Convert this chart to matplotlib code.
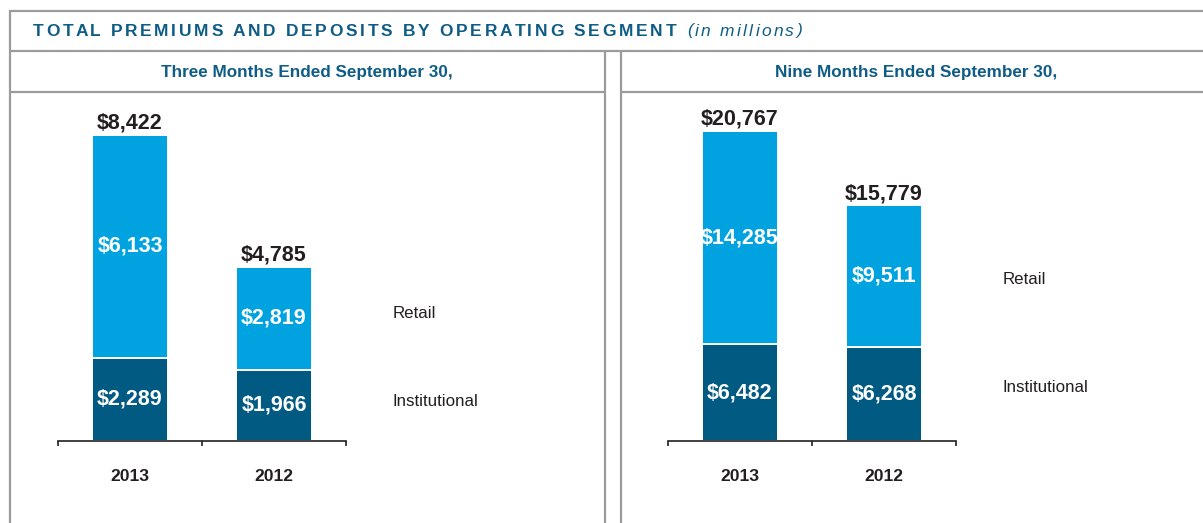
import matplotlib
matplotlib.use("Agg")
import matplotlib.pyplot as plt

plt.rcParams["font.family"] = ["Liberation Sans", "DejaVu Sans"]

# data (in millions)
years = ["2013", "2012"]
three_institutional = [2289, 1966]
three_retail = [6133, 2819]
nine_institutional = [6482, 6268]
nine_retail = [14285, 9511]
panel_titles = ["Three Months Ended September 30,", "Nine Months Ended September 30,"]
segment_names = ["Retail", "Institutional"]

W, H = 1203, 523
light = "#00a3e0"
dark = "#005a82"
navy = "#0f5d87"
ink = "#231f20"
grey = "#9b9b9b"

fig = plt.figure(figsize=(W / 100, H / 100), dpi=100)
bg = fig.add_axes([0, 0, 1, 1])
bg.set_xlim(0, W)
bg.set_ylim(H, 0)
bg.axis("off")

# frame
for xs, ys in [([9, W], [11, 11]), ([10, 10], [10, H]), ([10, W], [51, 51]),
               ([10, 605], [92, 92]), ([621, W], [92, 92]),
               ([605, 605], [51, H]), ([621, 621], [51, H])]:
    bg.plot(xs, ys, color=grey, lw=1.6, solid_capstyle="butt")

renderer = fig.canvas.get_renderer()


def text_width(s, **kw):
    t = bg.text(0, 0, s, **kw)
    w = t.get_window_extent(renderer).width
    t.remove()
    return w


def spaced_text(x, y, s, target, **kw):
    # draw s letter by letter so that it spans `target` pixels
    ref = text_width("|", **kw)
    natural = text_width(s + "|", **kw) - ref
    gap = (target - natural) / (len(s) - 1)
    for i, ch in enumerate(s):
        if ch == " ":
            continue
        off = text_width(s[:i] + "|", **kw) - ref if i else 0
        bg.text(x + off + i * gap, y, ch, ha="left", va="center", **kw)


spaced_text(33, 31, "TOTAL PREMIUMS AND DEPOSITS BY OPERATING SEGMENT", 643,
            fontsize=12.5, fontweight="bold", color=navy)
spaced_text(687, 31, "(in millions)", 115, fontsize=12.5, fontstyle="italic", color=navy)


def money(v):
    return "${:,}".format(v)


def draw_panel(left, header_x, title, inst, retail, ymax, legend_x, legend_y):
    bg.text(header_x, 72, title, ha="center", va="center", fontsize=12.3,
            fontweight="bold", color=navy)
    base, top = 441, 100
    ax = fig.add_axes([left / W, (H - base) / H, 288 / W, (base - top) / H])
    x = list(range(len(years)))
    ax.bar(x, inst, width=0.53, color=dark, edgecolor="white", linewidth=1.4)
    ax.bar(x, retail, bottom=inst, width=0.53, color=light, edgecolor="white", linewidth=1.4)
    for i in x:
        total = inst[i] + retail[i]
        ax.text(i, inst[i] / 2, money(inst[i]), ha="center", va="center",
                color="white", fontsize=15.5, fontweight="bold")
        ax.text(i, inst[i] + retail[i] / 2, money(retail[i]), ha="center", va="center",
                color="white", fontsize=15.5, fontweight="bold")
        ax.annotate(money(total), (i, total), xytext=(0, 4.5), textcoords="offset points",
                    ha="center", va="baseline", color=ink, fontsize=15.5, fontweight="bold")
        ax.annotate(years[i], (i, 0), xytext=(0, -25.5), textcoords="offset points",
                    ha="center", va="center", color=ink, fontsize=12.6, fontweight="bold")
    ax.set_xlim(-0.5, 1.5)
    ax.set_ylim(0, ymax)
    for s in ["top", "left", "right"]:
        ax.spines[s].set_visible(False)
    ax.spines["bottom"].set_color(ink)
    ax.spines["bottom"].set_linewidth(1.2)
    ax.set_yticks([])
    ax.set_xticks([-0.5, 0.5, 1.5])
    ax.set_xticklabels([])
    ax.tick_params(axis="x", direction="out", length=3.5, width=1.2, color=ink)
    ax.patch.set_alpha(0)
    for name, ly in zip(segment_names, legend_y):
        bg.text(legend_x, ly, name, ha="left", va="center", fontsize=12.2, color=ink)


draw_panel(58, 307, panel_titles[0], three_institutional, three_retail,
           8422 * 341 / 306, 393, [313, 401])
draw_panel(668, 916, panel_titles[1], nine_institutional, nine_retail,
           20767 * 341 / 310, 1003, [279, 388])

fig.savefig("out.png", dpi=100)
